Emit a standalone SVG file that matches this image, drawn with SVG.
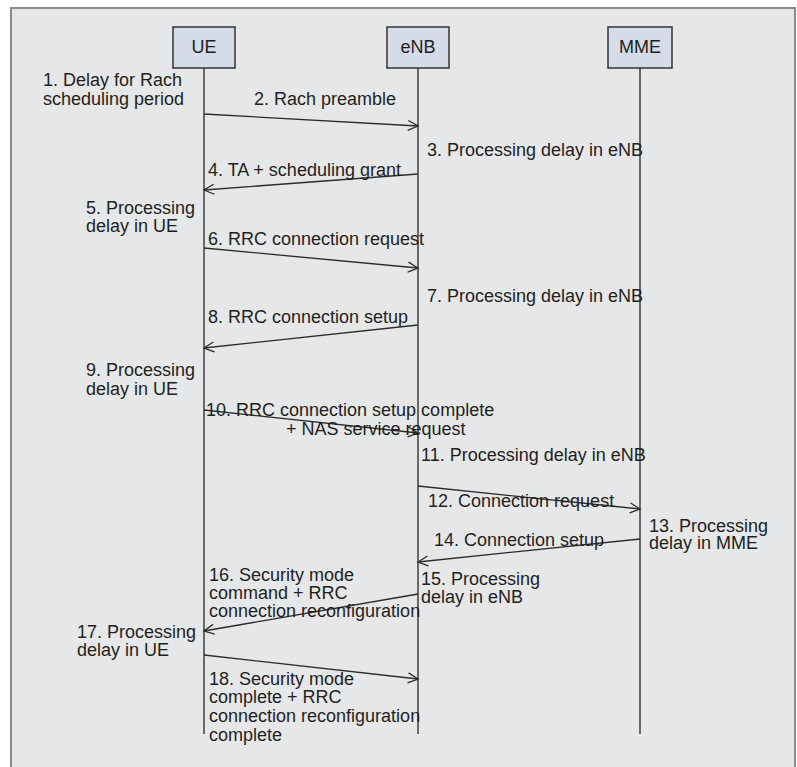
<svg xmlns="http://www.w3.org/2000/svg" width="797" height="767" viewBox="0 0 797 767">
<defs>
<marker id="arr" markerUnits="userSpaceOnUse" markerWidth="14" markerHeight="14" refX="11" refY="6" orient="auto">
<path d="M1,1 L11,6 L1,11" fill="none" stroke="#2b2b2b" stroke-width="1.3"/>
</marker>
</defs>
<style>
text{font-family:"Liberation Sans",Arial,sans-serif;font-size:18px;fill:#231f20}
.box{fill:#d5dbe8;stroke:#333;stroke-width:1.5}
.life{stroke:#333;stroke-width:1.4;fill:none}
.msg{stroke:#2b2b2b;stroke-width:1.3;fill:none;marker-end:url(#arr)}
.c{text-anchor:middle}
</style>
<rect x="11" y="8" width="784" height="780" fill="#e6e7e9" stroke="#8a8a8a" stroke-width="2"/>
<g id="UE">
<rect class="box" x="173" y="27" width="62" height="41"/>
<text class="c" x="204" y="53">UE</text>
<line class="life" x1="204" y1="68" x2="204" y2="734"/>
</g>
<g id="eNB">
<rect class="box" x="387" y="27" width="62" height="41"/>
<text class="c" x="418" y="53">eNB</text>
<line class="life" x1="418" y1="68" x2="418" y2="734"/>
</g>
<g id="MME">
<rect class="box" x="608" y="27" width="64" height="41"/>
<text class="c" x="640" y="53">MME</text>
<line class="life" x1="640" y1="68" x2="640" y2="734"/>
</g>
<g id="connectors">
<line class="msg" x1="204" y1="114" x2="418" y2="126"/>
<line class="msg" x1="418" y1="174" x2="204" y2="190"/>
<line class="msg" x1="204" y1="248" x2="418" y2="268"/>
<line class="msg" x1="418" y1="325" x2="204" y2="348"/>
<line class="msg" x1="204" y1="410" x2="418" y2="433"/>
<line class="msg" x1="418" y1="486" x2="640" y2="509"/>
<line class="msg" x1="640" y1="539" x2="418" y2="562"/>
<line class="msg" x1="418" y1="594" x2="204" y2="631"/>
<line class="msg" x1="204" y1="655" x2="418" y2="679"/>
</g>
<g id="labels">
<text x="43" y="86">1. Delay for Rach<tspan x="43" dy="19">scheduling period</tspan></text>
<text x="254" y="105">2. Rach preamble</text>
<text x="427" y="156">3. Processing delay in eNB</text>
<text x="208" y="176">4. TA + scheduling grant</text>
<text x="86" y="214">5. Processing<tspan x="86" dy="18">delay in UE</tspan></text>
<text x="208" y="245">6. RRC connection request</text>
<text x="427" y="302">7. Processing delay in eNB</text>
<text x="208" y="323">8. RRC connection setup</text>
<text x="86" y="376">9. Processing<tspan x="86" dy="19">delay in UE</tspan></text>
<text x="206" y="416">10. RRC connection setup complete<tspan x="286" dy="19">+ NAS service request</tspan></text>
<text x="421" y="461">11. Processing delay in eNB</text>
<text x="428" y="507">12. Connection request</text>
<text x="649" y="532">13. Processing<tspan x="649" dy="17">delay in MME</tspan></text>
<text x="434" y="546">14. Connection setup</text>
<text x="421" y="585">15. Processing<tspan x="421" dy="18">delay in eNB</tspan></text>
<text x="209" y="581">16. Security mode<tspan x="209" dy="18">command + RRC</tspan><tspan x="209" dy="18">connection reconfiguration</tspan></text>
<text x="77" y="638">17. Processing<tspan x="77" dy="18">delay in UE</tspan></text>
<text x="209" y="685">18. Security mode<tspan x="209" dy="18">complete + RRC</tspan><tspan x="209" dy="19">connection reconfiguration</tspan><tspan x="209" dy="19">complete</tspan></text>
</g>
</svg>
